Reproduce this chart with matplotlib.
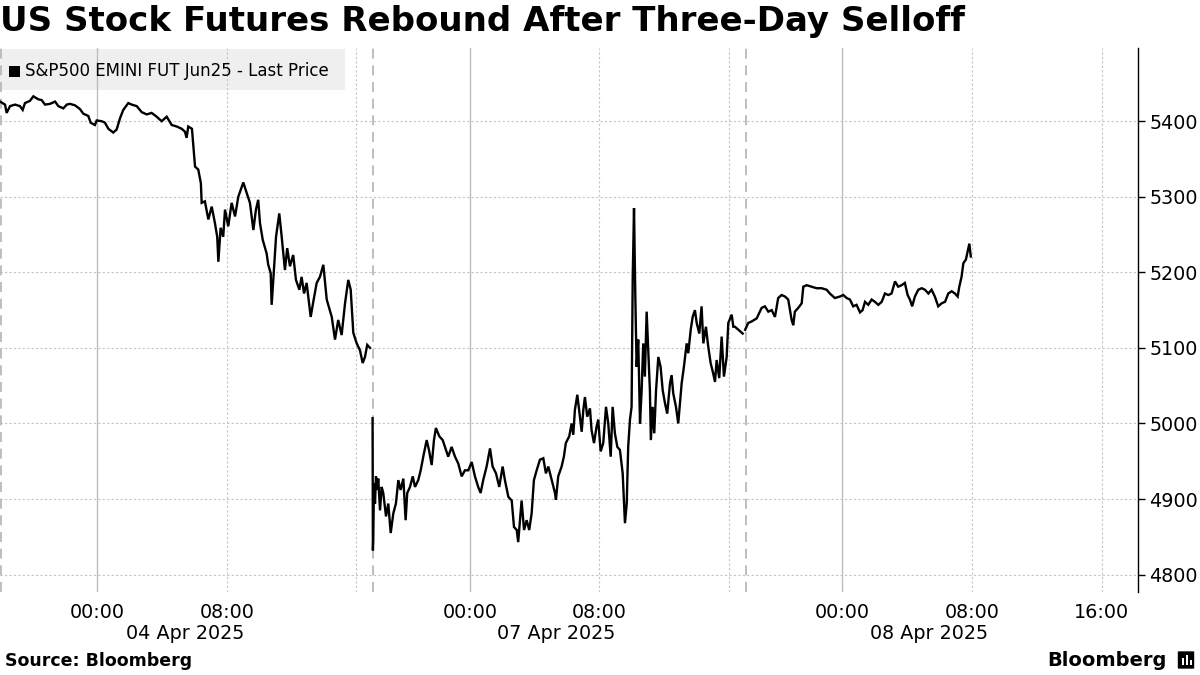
import matplotlib

matplotlib.use("Agg")

import matplotlib.pyplot as plt
import matplotlib.transforms as mtransforms
from matplotlib.patches import Rectangle, FancyBboxPatch

# trading sessions run 18:00 -> 17:00 (23 h); hours since session open
SESSION_LEN = 23

s1_hours = [0.00, 0.31, 0.41, 0.62, 0.93, 1.23, 1.40, 1.54, 1.85, 2.06, 2.36, 2.57, 2.78, 3.09,
            3.40, 3.60, 3.91, 4.12, 4.32, 4.63, 4.94, 5.14, 5.45, 5.60, 5.86, 5.97, 6.28, 6.48,
            6.69, 6.99, 7.20, 7.41, 7.61, 7.92, 8.13, 8.44, 8.75, 9.06, 9.36, 9.67, 9.98, 10.29,
            10.60, 10.91, 11.22, 11.42, 11.52, 11.62, 11.85, 12.04, 12.24, 12.40, 12.45, 12.65,
            12.86, 13.07, 13.27, 13.41, 13.48, 13.62, 13.78, 13.89, 14.09, 14.30, 14.51, 14.71,
            15.02, 15.23, 15.43, 15.64, 15.80, 15.94, 16.05, 16.22, 16.46, 16.56, 16.71, 16.77,
            16.91, 17.04, 17.24, 17.39, 17.59, 17.73, 17.90, 18.10, 18.27, 18.48, 18.62, 18.77,
            18.93, 19.18, 19.34, 19.55, 19.75, 19.96, 20.17, 20.48, 20.68, 20.88, 21.09, 21.30,
            21.50, 21.65, 21.81, 22.02, 22.22, 22.39, 22.53, 22.67, 22.84]
s1_price = [5426, 5422, 5411, 5420, 5422, 5420, 5415, 5424, 5427, 5433, 5429, 5428, 5422, 5423,
            5426, 5420, 5417, 5422, 5423, 5421, 5416, 5410, 5407, 5398, 5395, 5401, 5400, 5398,
            5390, 5385, 5389, 5404, 5415, 5424, 5422, 5420, 5412, 5409, 5411, 5406, 5400, 5406,
            5395, 5393, 5390, 5386, 5378, 5393, 5390, 5340, 5336, 5318, 5292, 5294,
            5270, 5287, 5265, 5247, 5214, 5259, 5247, 5283, 5261, 5292, 5274, 5300,
            5319, 5305, 5292, 5256, 5283, 5296, 5265, 5243, 5225, 5210, 5199, 5157,
            5203, 5247, 5278, 5247, 5203, 5232, 5208, 5223, 5190, 5177, 5194, 5172,
            5186, 5141, 5161, 5186, 5194, 5210, 5164, 5141, 5111, 5137, 5117, 5159,
            5190, 5177, 5120, 5106, 5097, 5080, 5088, 5104, 5100]

s2_hours = [0.00, 0.02, 0.04, 0.09, 0.15, 0.21, 0.29, 0.35, 0.46, 0.56, 0.66, 0.83, 0.97, 1.12,
            1.28, 1.44, 1.59, 1.73, 1.90, 2.04, 2.14, 2.31, 2.48, 2.62, 2.82, 2.97, 3.13, 3.34,
            3.48, 3.65, 3.79, 3.91, 4.12, 4.33, 4.53, 4.67, 4.88, 5.09, 5.29, 5.50, 5.70, 5.91,
            6.12, 6.32, 6.52, 6.67, 6.83, 7.04, 7.25, 7.41, 7.62, 7.82, 8.03, 8.17, 8.38, 8.59,
            8.73, 8.90, 8.99, 9.20, 9.35, 9.51, 9.67, 9.82, 9.96, 10.13, 10.33, 10.54, 10.70,
            10.85, 11.06, 11.26, 11.32, 11.46, 11.67, 11.81, 11.93, 12.14, 12.29, 12.39, 12.49,
            12.64, 12.80, 12.91, 13.01, 13.11, 13.25, 13.42, 13.52, 13.67, 13.83, 13.93, 14.08,
            14.24, 14.41, 14.55, 14.70, 14.82, 14.96, 15.11, 15.27, 15.44, 15.58, 15.69, 15.78,
            15.89, 15.99, 16.06, 16.14, 16.22, 16.30, 16.40, 16.51, 16.61, 16.71, 16.81, 16.92,
            17.02, 17.12, 17.18, 17.29, 17.39, 17.50, 17.64, 17.78, 17.91, 18.05, 18.19, 18.36,
            18.46, 18.56, 18.73, 18.87, 18.98, 19.08, 19.22, 19.39, 19.49, 19.64, 19.76, 19.90,
            20.01, 20.17, 20.31, 20.42, 20.58, 20.72, 20.87, 21.03, 21.14, 21.24, 21.40, 21.55,
            21.69, 21.86, 21.96, 22.17, 22.27, 22.37, 22.58, 22.85]
s2_price = [5007, 4832, 4846, 4921, 4894, 4930, 4912, 4927, 4885, 4916, 4908, 4877, 4894, 4855,
            4881, 4894, 4925, 4912, 4927, 4872, 4908, 4916, 4930, 4916, 4925, 4938, 4956, 4978,
            4965, 4945, 4978, 4994, 4983, 4978, 4965, 4956, 4969, 4956, 4947, 4930, 4938, 4938,
            4949, 4930, 4916, 4908, 4925, 4943, 4967, 4943, 4934, 4916, 4943, 4925, 4903, 4898,
            4863, 4859, 4843, 4898, 4859, 4872, 4859, 4881, 4925, 4938, 4952, 4954, 4934,
            4943, 4925, 4908, 4899, 4930, 4943, 4956, 4974, 4983, 5000, 4985, 5018,
            5038, 5009, 4989, 5018, 5035, 5009, 5020, 4991, 4974, 4996, 5005, 4963,
            4974, 5022, 5000, 4956, 5022, 4987, 4969, 4965, 4934, 4868, 4894, 4969,
            5005, 5022, 5194, 5285, 5168, 5075, 5111, 5000, 5044, 5106, 5062, 5148,
            5097, 5044, 4978, 5022, 4987, 5044, 5088, 5075, 5044, 5027, 5013, 5053,
            5064, 5040, 5022, 5000, 5027, 5053, 5075, 5106, 5093, 5124, 5141, 5150,
            5133, 5119, 5155, 5106, 5128, 5102, 5080, 5066, 5055, 5084, 5060, 5115,
            5062, 5088, 5133, 5144, 5128, 5128, 5124, 5119]

s3_hours = [0.00, 0.19, 0.40, 0.71, 1.02, 1.22, 1.43, 1.64, 1.84, 2.04, 2.25, 2.46, 2.66, 2.87,
            2.97, 3.07, 3.28, 3.49, 3.59, 3.80, 4.10, 4.41, 4.72, 5.03, 5.23, 5.54, 5.85, 6.06,
            6.27, 6.47, 6.67, 6.88, 7.09, 7.25, 7.40, 7.60, 7.81, 8.01, 8.22, 8.43, 8.63, 8.84,
            9.04, 9.25, 9.45, 9.66, 9.86, 10.03, 10.17, 10.31, 10.48, 10.69, 10.90, 11.10, 11.31,
            11.51, 11.71, 11.92, 12.13, 12.34, 12.54, 12.75, 12.95, 13.12, 13.22, 13.36, 13.47,
            13.63, 13.71, 13.84, 13.93]
s3_price = [5124, 5133, 5135, 5139, 5153, 5155, 5148, 5150, 5141, 5166, 5170, 5168, 5164, 5137,
            5130, 5148, 5153, 5159, 5181, 5183, 5181, 5179, 5179, 5177, 5172, 5166, 5168, 5170,
            5166, 5164, 5155, 5157, 5147, 5150, 5161, 5157, 5164, 5161, 5157, 5161, 5172, 5170,
            5172, 5188, 5181, 5183, 5186, 5170, 5164, 5155, 5168, 5177, 5179, 5177, 5172,
            5177, 5168, 5155, 5159, 5161, 5172, 5175, 5172, 5168, 5181, 5194, 5212,
            5217, 5225, 5238, 5221]

sessions = [(s1_hours, s1_price), (s2_hours, s2_price), (s3_hours, s3_price)]

# axis positions on the compressed trading-hour scale
major_ticks = [6, 29, 52]                    # 00:00
minor_ticks = [14, 22, 37, 45, 60, 68]       # 08:00 / 16:00
labelled = [6, 14, 29, 37, 52, 60, 68]
tick_labels = ["00:00", "08:00", "00:00", "08:00", "00:00", "08:00", "16:00"]
date_pos = [11.45, 34.35, 57.35]
date_labels = ["04 Apr 2025", "07 Apr 2025", "08 Apr 2025"]
y_ticks = [4800, 4900, 5000, 5100, 5200, 5300, 5400]

fig = plt.figure(figsize=(12, 6.75), dpi=100)
ax = fig.add_axes([0.0, 0.123, 0.9483, 0.806])

for i, (h, p) in enumerate(sessions):
    ax.plot([t + i * SESSION_LEN for t in h], p, color="black", lw=1.7,
            solid_joinstyle="miter", zorder=3)

for y in y_ticks:
    ax.axhline(y, color="#c4c4c4", lw=0.8, ls=(0, (2, 2)), zorder=1)
for x in major_ticks:
    ax.axvline(x, color="#bdbdbd", lw=1.0, zorder=1)
for x in minor_ticks:
    ax.axvline(x, color="#c4c4c4", lw=0.8, ls=(0, (2, 2)), zorder=1)
for k in range(3):
    ax.axvline(k * SESSION_LEN + 0.05, color="#b3b3b3", lw=1.2, ls=(0, (6, 4)), zorder=1)

ax.set_xlim(0, 70.25)
ax.set_ylim(4777, 5497)

for side in ["top", "left", "bottom"]:
    ax.spines[side].set_visible(False)
ax.spines["right"].set_linewidth(1.0)

ax.yaxis.tick_right()
ax.set_yticks(y_ticks)
ax.tick_params(axis="y", length=5, width=1, labelsize=13.8, pad=3, colors="black")
ax.set_xticks(labelled)
ax.set_xticklabels(tick_labels)
ax.tick_params(axis="x", length=0, labelsize=13.8, pad=8)

trans = mtransforms.blended_transform_factory(ax.transData, ax.transAxes)
for x, lab in zip(date_pos, date_labels):
    ax.text(x, -0.077, lab, transform=trans, ha="center", va="center", fontsize=13.8)

# legend box (behind the gridlines)
ax.add_patch(Rectangle((0, 1 - 90 / 675), 345 / 1200, 41 / 675, transform=fig.transFigure,
                       facecolor="#efefef", edgecolor="none", zorder=0, clip_on=False))
fig.patches.append(Rectangle((9 / 1200, 1 - 77 / 675), 11 / 1200, 11 / 675,
                             transform=fig.transFigure, facecolor="black", edgecolor="none"))
fig.text(25 / 1200, 1 - 71 / 675, "S&P500 EMINI FUT Jun25 - Last Price", fontsize=12,
         va="center", ha="left")

fig.text(0.0, 1 - 22 / 675, "US Stock Futures Rebound After Three-Day Selloff",
         fontsize=24.5, fontweight="bold", va="center", ha="left")
fig.text(5 / 1200, 1 - 661 / 675, "Source: Bloomberg", fontsize=12.5, fontweight="bold",
         va="center", ha="left")
fig.text(1167 / 1200, 1 - 660 / 675, "Bloomberg", fontsize=14, fontweight="bold",
         va="center", ha="right")

# small logo mark
fig.patches.append(FancyBboxPatch((1179 / 1200, 1 - 668 / 675), 14 / 1200, 16 / 675,
                                  boxstyle="round,pad=0.001", transform=fig.transFigure,
                                  facecolor="black", edgecolor="none"))
for bx, bh in [(1182, 7), (1186, 10), (1190, 5)]:
    fig.patches.append(Rectangle((bx / 1200, 1 - 665 / 675), 2 / 1200, bh / 675,
                                 transform=fig.transFigure, facecolor="white",
                                 edgecolor="none"))

fig.savefig("out.png", dpi=100)
plt.close(fig)
